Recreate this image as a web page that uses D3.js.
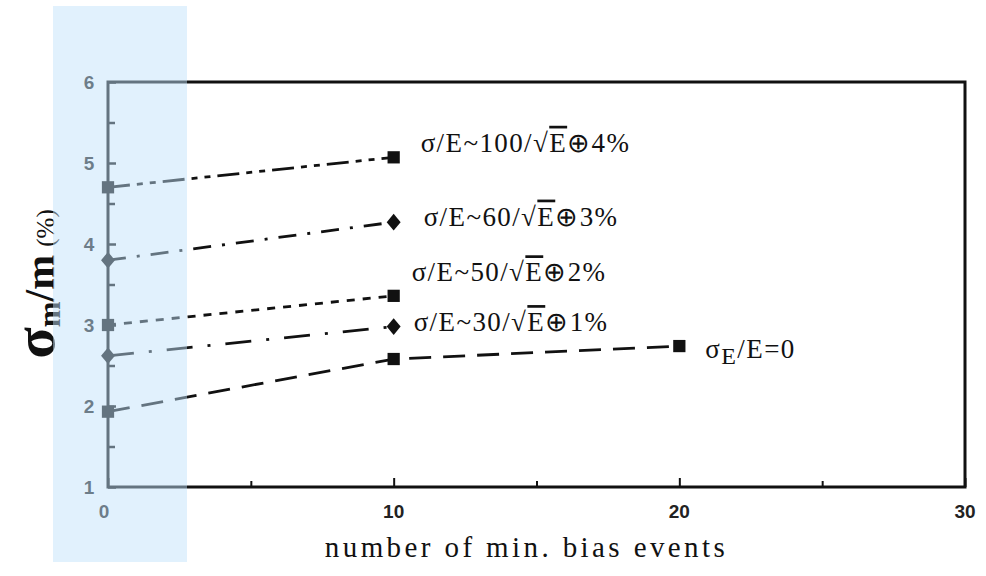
<!DOCTYPE html>
<html>
<head>
<meta charset="utf-8">
<script src="https://cdn.jsdelivr.net/npm/d3@7"></script>
<style>
  html, body { margin: 0; padding: 0; background: #fff; }
  svg { display: block; }
</style>
</head>
<body>
<div id="chart"></div>
<script>
'use strict';

// ── Data ───────────────────────────────────────────────────────────────────
const xTicks      = [0, 10, 20, 30];
const xMinorTicks = [5, 15, 25];
const yTicks      = [1, 2, 3, 4, 5, 6];
const yMinorTicks = [1.5, 2.5, 3.5, 4.5, 5.5];

const s100X = [0, 10];     const s100Y = [4.70, 5.07];
const s60X  = [0, 10];     const s60Y  = [3.80, 4.27];
const s50X  = [0, 10];     const s50Y  = [3.00, 3.36];
const s30X  = [0, 10];     const s30Y  = [2.62, 2.98];
const s0X   = [0, 10, 20]; const s0Y   = [1.93, 2.58, 2.74];

const seriesList = [
  { xs: s100X, ys: s100Y, marker: 'square',  dash: '22,7,6,7,6,7', coef: '100', cst: '4%', lx: 27, ly: -15 },
  { xs: s60X,  ys: s60Y,  marker: 'diamond', dash: '18,11,3,11',   coef: '60',  cst: '3%', lx: 30, ly: -6 },
  { xs: s50X,  ys: s50Y,  marker: 'square',  dash: '8,8',          coef: '50',  cst: '2%', lx: 18, ly: -24 },
  { xs: s30X,  ys: s30Y,  marker: 'diamond', dash: '26,15,3,15',   coef: '30',  cst: '1%', lx: 20, ly: -5 },
  { xs: s0X,   ys: s0Y,   marker: 'square',  dash: '22,12',        coef: null,  cst: null, lx: 26, ly: 2 },
];

// ── Layout ─────────────────────────────────────────────────────────────────
const W = 986, H = 576;
const plot = { left: 108, right: 965, top: 82, bottom: 487 };

const x = d3.scaleLinear().domain([0, 30]).range([plot.left, plot.right]);
const y = d3.scaleLinear().domain([1, 6]).range([plot.bottom, plot.top]);

const svg = d3.select('#chart').append('svg')
  .attr('width', W).attr('height', H)
  .attr('viewBox', `0 0 ${W} ${H}`);

const SERIF = '"Liberation Serif", "Times New Roman", serif';
const SANS  = '"Liberation Sans", Arial, sans-serif';

// Frame
svg.append('rect')
  .attr('x', plot.left).attr('y', plot.top)
  .attr('width', plot.right - plot.left).attr('height', plot.bottom - plot.top)
  .attr('fill', 'none').attr('stroke', '#111').attr('stroke-width', 3);

// Left axis: inward ticks
const yAxis = svg.append('g').attr('transform', `translate(${plot.left},0)`);
yAxis.call(d3.axisRight(y).tickValues(yTicks).tickSize(8).tickFormat(''))
  .call(ax => ax.select('.domain').remove());
yAxis.append('g')
  .call(d3.axisRight(y).tickValues(yMinorTicks).tickSize(7).tickFormat(''))
  .call(ax => ax.select('.domain').remove());
yAxis.selectAll('line').attr('stroke', '#111').attr('stroke-width', 2.5);

svg.append('g').selectAll('text')
  .data(yTicks)
  .join('text')
  .attr('x', plot.left - 19)
  .attr('y', d => y(d))
  .attr('dy', '0.36em')
  .attr('text-anchor', 'middle')
  .attr('font-family', SANS).attr('font-size', 19).attr('font-weight', 'bold')
  .attr('fill', '#222')
  .text(d => d);

// Bottom axis: inward ticks
const xAxis = svg.append('g').attr('transform', `translate(0,${plot.bottom})`);
xAxis.call(d3.axisTop(x).tickValues(xTicks).tickSize(9).tickFormat(''))
  .call(ax => ax.select('.domain').remove());
xAxis.append('g')
  .call(d3.axisTop(x).tickValues(xMinorTicks).tickSize(6).tickFormat(''))
  .call(ax => ax.select('.domain').remove());
xAxis.selectAll('line').attr('stroke', '#111').attr('stroke-width', 2);

svg.append('g').selectAll('text')
  .data(xTicks)
  .join('text')
  .attr('x', d => x(d) - (d === 0 ? 4 : 0))
  .attr('y', plot.bottom + 24)
  .attr('dy', '0.36em')
  .attr('text-anchor', 'middle')
  .attr('font-family', SANS).attr('font-size', 19).attr('font-weight', 'bold')
  .attr('fill', '#222')
  .text(d => d);

// ── Series ─────────────────────────────────────────────────────────────────
const line = d3.line().x(d => x(d[0])).y(d => y(d[1]));

seriesList.forEach(s => {
  const pts = s.xs.map((v, i) => [v, s.ys[i]]);

  svg.append('path')
    .datum(pts)
    .attr('fill', 'none')
    .attr('stroke', '#111')
    .attr('stroke-width', 2.8)
    .attr('stroke-dasharray', s.dash)
    .attr('d', line);

  const sym = s.marker === 'square'
    ? d3.symbol(d3.symbolSquare, 150)
    : d3.symbol(d3.symbolDiamond, 80);
  svg.append('g').selectAll('path')
    .data(pts)
    .join('path')
    .attr('transform', d => `translate(${x(d[0])},${y(d[1])})` + (s.marker === 'diamond' ? ' scale(1.45,1)' : ''))
    .attr('d', sym)
    .attr('fill', '#111');

  // label next to last point
  const last = pts[pts.length - 1];
  const t = svg.append('text')
    .attr('x', x(last[0]) + s.lx)
    .attr('y', y(last[1]) + s.ly)
    .attr('dy', '0.35em')
    .attr('font-family', SERIF)
    .attr('font-size', 27)
    .attr('letter-spacing', 1.4)
    .attr('fill', '#111');

  if (s.coef) {
    t.append('tspan').text(`σ/E~${s.coef}/√`);
    t.append('tspan').style('text-decoration', 'overline').text('E');
    t.append('tspan').text(`⊕${s.cst}`);
  } else {
    t.append('tspan').text('σ');
    t.append('tspan').attr('dy', 6).attr('font-size', 24).text('E');
    t.append('tspan').attr('dy', -6).text('/E=0');
  }
});

// ── Axis titles ────────────────────────────────────────────────────────────
svg.append('text')
  .attr('x', plot.left + (plot.right - plot.left) / 2 - 10)
  .attr('y', 557)
  .attr('text-anchor', 'middle')
  .attr('font-family', SERIF)
  .attr('font-size', 29)
  .attr('letter-spacing', 3.4)
  .attr('fill', '#111')
  .text('number of min. bias events');

const yt = svg.append('text')
  .attr('transform', 'translate(54,284) rotate(-90)')
  .attr('text-anchor', 'middle')
  .attr('font-family', SERIF)
  .attr('font-weight', 'bold')
  .attr('fill', '#111');
yt.append('tspan').attr('font-size', 58).text('σ');
yt.append('tspan').attr('font-size', 31).attr('dy', 6).text('m');
yt.append('tspan').attr('font-size', 42).attr('dy', -6).text('/m');
yt.append('tspan').attr('font-size', 25).attr('font-weight', 'normal').attr('dx', 8).text('(%)');

// ── Translucent blue highlight over the x = 0 column ──────────────────────
svg.append('rect')
  .attr('x', 53).attr('y', 6)
  .attr('width', 134).attr('height', 556)
  .attr('fill', 'rgb(192,225,250)')
  .attr('fill-opacity', 0.48);
</script>
</body>
</html>
